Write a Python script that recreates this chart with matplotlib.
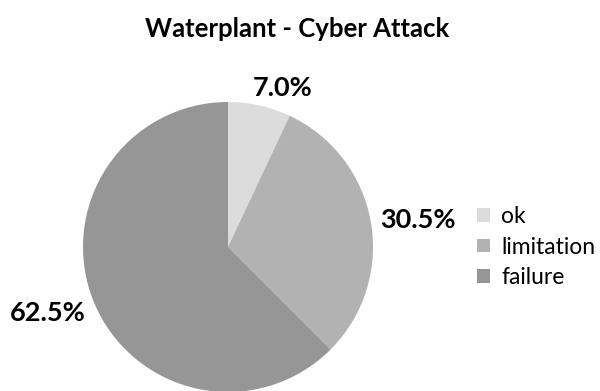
import matplotlib
matplotlib.use("Agg")
import matplotlib.pyplot as plt
import numpy as np

plt.rcParams['font.family'] = ['Lato', 'DejaVu Sans']

# data
categories = ['ok', 'limitation', 'failure']
shares = [7.0, 30.5, 62.5]
colors = ['#dcdcdc', '#b2b2b2', '#969696']
title = 'Waterplant - Cyber Attack'

fig = plt.figure(figsize=(6.0, 3.91), dpi=100)
ax = fig.add_axes([83 / 600, -1 / 391, 290 / 600, 290 / 391])

wedges, texts, autotexts = ax.pie(
    shares, colors=colors, startangle=90, counterclock=False,
    autopct='%1.1f%%', pctdistance=1.3, radius=1.0,
    wedgeprops=dict(linewidth=0),
)
ax.set_xlim(-1, 1)
ax.set_ylim(-1, 1)
ax.set_aspect('equal')

# nudge the percentage labels to sit like the original
nudges = [(0.09, -0.17), (0.03, -0.04), (-0.04, 0.04)]
for t, (dx, dy) in zip(autotexts, nudges):
    x, y = t.get_position()
    t.set_position((x + dx, y + dy))
    t.set_fontsize(19.5)
    t.set_fontweight('bold')
    t.set_clip_on(False)

fig.text(0.495, 0.927, title, ha='center', va='center', fontsize=18.5, fontweight='bold')

leg = fig.legend(wedges, categories, loc='center left', bbox_to_anchor=(0.795, 0.368),
                 frameon=False, fontsize=16.5, handlelength=0.55, handleheight=0.55,
                 handletextpad=0.5, labelspacing=0.42, borderaxespad=0, borderpad=0)

fig.savefig('out.png', dpi=100)
